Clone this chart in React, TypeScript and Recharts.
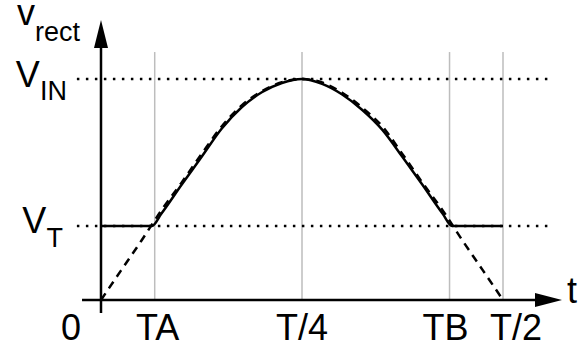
import { LineChart, Line, XAxis, YAxis, ReferenceLine, ReferenceDot } from 'recharts'

// time in units of T, voltage normalised to V_IN
const V_IN = 1
const V_T = 0.335
const TA = 0.0668
const TB = 0.4335

const dashedT = [0, 0.025, 0.05, 0.075, 0.1, 0.125, 0.15, 0.175, 0.2, 0.225, 0.25, 0.275, 0.3, 0.325, 0.35, 0.375, 0.4, 0.425, 0.45, 0.475, 0.5]
const dashedV = [0, 0.134, 0.267, 0.405, 0.53, 0.66, 0.785, 0.88, 0.945, 0.985, 1.0, 0.984, 0.938, 0.87, 0.785, 0.66, 0.53, 0.405, 0.267, 0.134, 0]

const solidT = [0, 0.0634, 0.075, 0.1, 0.125, 0.15, 0.175, 0.2, 0.225, 0.25, 0.275, 0.3, 0.325, 0.35, 0.375, 0.4, 0.425, 0.4366, 0.5]
const solidV = [0.335, 0.335, 0.39, 0.52, 0.647, 0.775, 0.872, 0.94, 0.982, 1.0, 0.978, 0.93, 0.86, 0.77, 0.647, 0.52, 0.39, 0.335, 0.335]

const tickValues = [0, TA, 0.25, TB, 0.5]
const tickLabels = ['0', 'TA', 'T/4', 'TB', 'T/2']
const tickShift = [-30, 3, 0, -4, 13]

const gridLines = [TA, 0.25, TB, 0.5]

const dashed = dashedT.map((t, i) => ({ t, v: dashedV[i] }))
const solid = solidT.map((t, i) => ({ t, v: solidV[i] }))

const FONT = '"Liberation Sans", Arial, Helvetica, sans-serif'
const FS = 36
const SUB_FS = 27

const SubLabel = (main: string, sub: string, dx: number, dy: number, subDy: number) =>
  (p: any) => (
    <text x={p.cx + dx} y={p.cy + dy} textAnchor="end" fontFamily={FONT} fontSize={FS} fill="#000">
      {main}
      <tspan fontSize={SUB_FS} dy={subDy}>{sub}</tspan>
    </text>
  )

export default function App() {
  return (
    <div style={{ position: 'absolute', left: 0, top: 0, background: '#fff' }}>
      <LineChart width={578} height={347} margin={{ top: 0, right: 0, bottom: 0, left: 0 }}>
        <XAxis type="number" dataKey="t" domain={[-0.12562, 0.59328]} allowDataOverflow hide />
        <YAxis type="number" dataKey="v" domain={[-0.21267, 1.35747]} allowDataOverflow hide />

        {gridLines.map((t) => (
          <ReferenceLine key={t} segment={[{ x: t, y: 0 }, { x: t, y: 1.122 }]} stroke="#bdbdbd" strokeWidth={1.5} />
        ))}

        <ReferenceLine segment={[{ x: -0.03, y: V_IN }, { x: 0.561, y: V_IN }]} stroke="#000" strokeWidth={2.5} strokeDasharray="2.5 6.5" />
        <ReferenceLine segment={[{ x: -0.03, y: V_T }, { x: 0.561, y: V_T }]} stroke="#000" strokeWidth={2.5} strokeDasharray="2.5 6.5" />

        {/* axes */}
        <ReferenceLine segment={[{ x: -0.0236, y: 0 }, { x: 0.545, y: 0 }]} stroke="#000" strokeWidth={2.5} />
        <ReferenceLine segment={[{ x: 0, y: -0.059 }, { x: 0, y: 1.18 }]} stroke="#000" strokeWidth={2.5} />
        <ReferenceDot
          x={0.5734}
          y={0}
          r={0}
          shape={(p: any) => (
            <polygon points={`${p.cx},${p.cy} ${p.cx - 27},${p.cy - 7} ${p.cx - 27},${p.cy + 7}`} fill="#000" />
          )}
        />
        <ReferenceDot
          x={0}
          y={1.267}
          r={0}
          shape={(p: any) => (
            <polygon points={`${p.cx},${p.cy} ${p.cx - 7},${p.cy + 28} ${p.cx + 7},${p.cy + 28}`} fill="#000" />
          )}
        />

        <Line data={dashed} dataKey="v" type="monotone" stroke="#000" strokeWidth={2.5} strokeDasharray="8 6" dot={false} activeDot={false} isAnimationActive={false} />
        <Line data={solid} dataKey="v" type="monotone" stroke="#000" strokeWidth={2.5} dot={false} activeDot={false} isAnimationActive={false} />

        {/* labels */}
        <ReferenceDot x={0} y={1.267} r={0} shape={SubLabel('v', 'rect', -21, 5, 16)} />
        <ReferenceDot x={-0.03} y={V_IN} r={0} shape={SubLabel('V', 'IN', -10, 8, 13)} />
        <ReferenceDot x={-0.03} y={V_T} r={0} shape={SubLabel('V', 'T', -14, 7, 14)} />
        <ReferenceDot
          x={0.5734}
          y={0}
          r={0}
          shape={(p: any) => (
            <text x={p.cx + 5} y={p.cy + 3} fontFamily={FONT} fontSize={FS} fill="#000">t</text>
          )}
        />
        {tickValues.map((t, i) => (
          <ReferenceDot
            key={tickLabels[i]}
            x={t}
            y={0}
            r={0}
            shape={(p: any) => (
              <text x={p.cx + tickShift[i]} y={p.cy + 40} textAnchor="middle" fontFamily={FONT} fontSize={FS} fill="#000">
                {tickLabels[i]}
              </text>
            )}
          />
        ))}
      </LineChart>
    </div>
  )
}
